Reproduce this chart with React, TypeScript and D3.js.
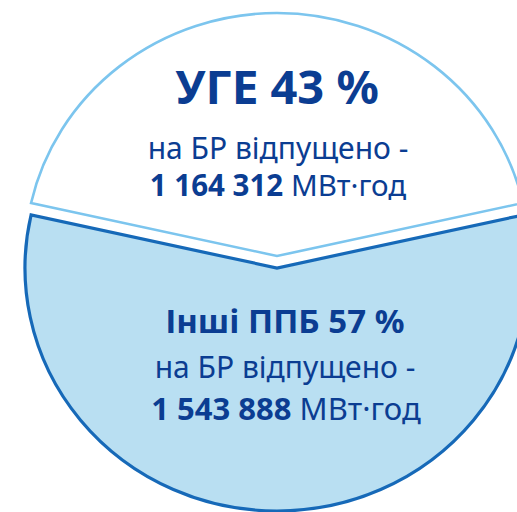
import React from "react";
import * as d3 from "d3";

const categories = ["УГЕ", "Інші ППБ"];
const shares = [43, 57];
const amounts = ["1 164 312", "1 543 888"];
const subLabel = "на БР відпущено -";
const unitLabel = "МВт·год";

const W = 517;
const H = 512;
const cx = 277;
const cy = 262;
const R = 243;
const sx = 252 / 243;
const explode = 6;

const fills = ["#ffffff", "#b9dff2"];
const strokes = ["#7cc5ee", "#1669b8"];
const strokeW = [2.6, 3.2];
const textColor = "#0b3d92";

export default function App() {
  const pie = d3
    .pie<number>()
    .sort(null)
    .startAngle(-Math.PI * (shares[0] / 100))
    .endAngle(2 * Math.PI - Math.PI * (shares[0] / 100));
  const arcs = pie(shares);
  const arcGen = d3.arc<d3.PieArcDatum<number>>().innerRadius(0).outerRadius(R);

  const font = "'Noto Sans', 'Open Sans', sans-serif";

  return (
    <svg
      width={W}
      height={H}
      style={{ position: "absolute", left: 0, top: 0, display: "block" }}
    >
      <rect width={W} height={H} fill="#ffffff" />
      <g transform={`translate(${cx},${cy}) scale(${sx},1)`}>
        {arcs.map((a, i) => {
          const mid = (a.startAngle + a.endAngle) / 2;
          const dx = Math.sin(mid) * explode;
          const dy = -Math.cos(mid) * explode;
          return (
            <path
              key={i}
              d={arcGen(a) || ""}
              transform={`translate(${dx},${dy})`}
              fill={fills[i]}
              stroke={strokes[i]}
              strokeWidth={strokeW[i]}
              strokeLinejoin="miter"
              vectorEffect="non-scaling-stroke"
            />
          );
        })}
      </g>
      <g fontFamily={font} fill={textColor} textAnchor="middle">
        <text x={277} y={104} fontSize={47} fontWeight={700}>
          {`${categories[0]} ${shares[0]} %`}
        </text>
        <text x={278} y={159} fontSize={30}>
          {subLabel}
        </text>
        <text x={278} y={196} fontSize={29.5}>
          <tspan fontWeight={700}>{amounts[0]}</tspan>
          <tspan>{` ${unitLabel}`}</tspan>
        </text>
        <text x={285} y={333} fontSize={33} fontWeight={700}>
          {`${categories[1]} ${shares[1]} %`}
        </text>
        <text x={285} y={378} fontSize={30}>
          {subLabel}
        </text>
        <text x={286} y={420} fontSize={31}>
          <tspan fontWeight={700}>{amounts[1]}</tspan>
          <tspan>{` ${unitLabel}`}</tspan>
        </text>
      </g>
    </svg>
  );
}
